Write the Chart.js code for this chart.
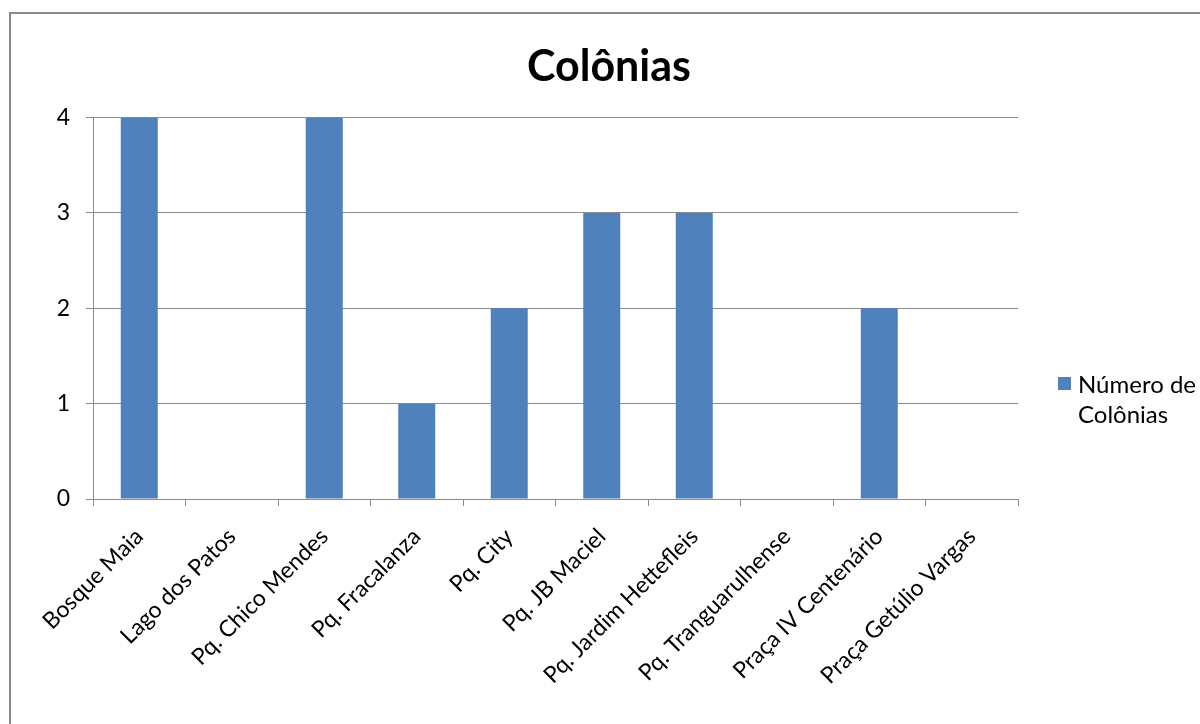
<!DOCTYPE html>
<html><head><meta charset="utf-8">
<script src="https://cdn.jsdelivr.net/npm/chart.js@4"></script>
<style>
html,body{margin:0;padding:0;background:#fff;overflow:hidden;}
#frame{position:absolute;left:9px;top:12px;width:1400px;height:900px;border:2px solid #8a8a8a;box-sizing:border-box;pointer-events:none;}
#wrap{position:absolute;left:0;top:0;width:1200px;height:724px;}
</style></head>
<body>
<div id="wrap"><canvas id="c" width="1200" height="724"></canvas></div>
<div id="frame"></div>
<script>
const titleText = "Colônias";
const categories = ["Bosque Maia","Lago dos Patos","Pq. Chico Mendes","Pq. Fracalanza","Pq. City","Pq. JB Maciel","Pq. Jardim Hettefleis","Pq. Tranguarulhense","Praça IV Centenário","Praça Getúlio Vargas"];
const seriesLabel = ["Número de","Colônias"];
const seriesValues = [4,0,4,1,2,3,3,0,2,0];
const yTicks = [0,1,2,3,4];

const FONT = "Lato, 'Liberation Sans', sans-serif";
const BAR = "#4F81BD";

const legendPlugin = {
  id: 'sideLegend',
  afterDraw(chart){
    const ctx = chart.ctx;
    ctx.save();
    ctx.fillStyle = BAR;
    ctx.fillRect(1058, 377, 13, 13);
    ctx.fillStyle = "#000";
    ctx.font = "24px " + FONT;
    ctx.textBaseline = "middle";
    ctx.textAlign = "left";
    seriesLabel.forEach((t,i)=>ctx.fillText(t, 1078, 385 + i*30));
    ctx.restore();
  }
};

new Chart(document.getElementById('c'), {
  type: 'bar',
  data: {
    labels: categories,
    datasets: [{
      label: seriesLabel.join(' '),
      data: seriesValues,
      backgroundColor: BAR,
      borderWidth: 0,
      barPercentage: 0.4,
      categoryPercentage: 1.0
    }]
  },
  options: {
    responsive: false,
    animation: false,
    events: [],
    layout: { padding: { left: 18, top: 0, right: 0, bottom: 0 } },
    plugins: {
      legend: { display: false },
      tooltip: { enabled: false },
      title: {
        display: true,
        text: titleText,
        color: "#000",
        font: { family: FONT, size: 43, weight: 'bold', lineHeight: 1.2 },
        padding: { top: 41, bottom: 25 }
      }
    },
    scales: {
      x: {
        grid: { display: true, drawOnChartArea: false, drawTicks: true, tickLength: 7, color: "#8c8c8c", offset: true },
        border: { display: true, color: "#8c8c8c", width: 1 },
        ticks: { color: "#000", font: { family: FONT, size: 23 }, maxRotation: 45, minRotation: 45, padding: 17, autoSkip: false },
        afterFit(s){ s.height = 225; }
      },
      y: {
        min: 0, max: 4,
        afterBuildTicks(s){ s.ticks = yTicks.map(v=>({value:v})); },
        grid: { color: "#8c8c8c", tickLength: 7, drawTicks: true },
        border: { display: true, color: "#8c8c8c", width: 1 },
        ticks: { color: "#000", font: { family: FONT, size: 23 }, padding: 16 },
        afterFit(s){ s.width = 75; }
      },
      side: {
        position: 'right',
        display: true,
        grid: { display: false, drawTicks: false },
        border: { display: false },
        ticks: { display: false },
        afterFit(s){ s.width = 182; }
      }
    }
  },
  plugins: [legendPlugin]
});
</script>
</body></html>
